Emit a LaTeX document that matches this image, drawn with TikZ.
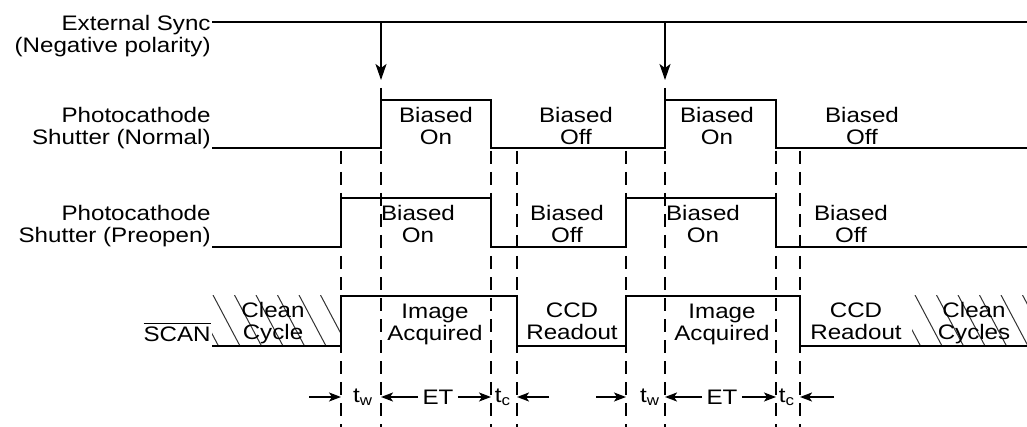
\documentclass[tikz,border=0pt]{standalone}
\usepackage{fontspec}
\setmainfont{Liberation Sans}[FakeStretch=1.15]
\usetikzlibrary{arrows.meta}

\begin{document}
\begin{tikzpicture}[x=0.5pt, y=-0.5pt,
    wave/.style={line width=0.9pt, line join=miter},
    guide/.style={line width=0.8pt, dash pattern=on 6.5pt off 4pt},
    hatch/.style={line width=0.5pt, draw=black!80},
    sig/.style={font=\fontsize{10.5}{11}\selectfont, align=right, anchor=east, inner sep=0pt},
    state/.style={font=\fontsize{10.5}{11}\selectfont, align=center, inner sep=0pt},
    span/.style={font=\fontsize{10.5}{11}\selectfont, inner sep=2pt},
    trig/.style={-{Stealth[length=8pt, width=5.5pt, inset=2pt]}, line width=0.9pt},
    dur/.style={-{Stealth[length=6pt, width=4.5pt, inset=1.5pt]}, line width=0.9pt}
  ]
  \useasboundingbox (0,0) rectangle (1027,427);

  % signal names
  \node[sig] (lsync) at (211,36) {External Sync\\(Negative polarity)};
  \node[sig] (lnrm) at (211,128) {Photocathode\\Shutter (Normal)};
  \node[sig] (lpre) at (211,226) {Photocathode\\Shutter (Preopen)};
  \node[sig, anchor=base east] (lscan) at (211,341) {$\overline{\mbox{SCAN}}$};

  % external sync
  \draw[wave] (212,22) -- (1027,22);
  \draw[trig] (381,22) -- (381,80);
  \draw[trig] (665,22) -- (665,80);
  \draw[wave] (381,88) -- (381,100);
  \draw[wave] (665,88) -- (665,100);

  % shutter, normal
  \draw[wave] (212,148) -- (381,148) -- (381,100) -- (491,100) -- (491,148)
    -- (665,148) -- (665,100) -- (776,100) -- (776,148) -- (1027,148);
  \node[state] (n1) at (436,126) {Biased\\On};
  \node[state] (n2) at (576,126) {Biased\\Off};
  \node[state] (n3) at (717,126) {Biased\\On};
  \node[state] (n4) at (862,126) {Biased\\Off};

  % shutter, preopen
  \draw[wave] (212,247) -- (341,247) -- (341,198) -- (491,198) -- (491,247)
    -- (626,247) -- (626,198) -- (776,198) -- (776,247) -- (1027,247);
  \node[state] (p1) at (418,224) {Biased\\On};
  \node[state] (p2) at (567,224) {Biased\\Off};
  \node[state] (p3) at (703,224) {Biased\\On};
  \node[state] (p4) at (851,224) {Biased\\Off};

  % scan
  \begin{scope}
    \clip (212,295) rectangle (341,346);
    \foreach \x in {170,191.5,...,341}
      \draw[hatch] (\x,295) -- ++(27,51);
  \end{scope}
  \begin{scope}
    \clip (912,295) rectangle (1027,346);
    \foreach \x in {872,893.5,...,1027}
      \draw[hatch] (\x,295) -- ++(27,51);
  \end{scope}
  \draw[wave] (212,346) -- (341,346) -- (341,296) -- (517,296) -- (517,346)
    -- (626,346) -- (626,296) -- (800,296) -- (800,346) -- (1027,346);
  \node[state] (s1) at (273,323) {Clean\\Cycle};
  \node[state] (s2) at (435,324) {Image\\Acquired};
  \node[state] (s3) at (572,321) {CCD\\Readout};
  \node[state] (s4) at (722,324) {Image\\Acquired};
  \node[state] (s5) at (856,321) {CCD\\Readout};
  \node[state] (s6) at (974,323) {Clean\\Cycles};

  % edge markers
  \foreach \x in {341,381,491,517,626,665,776,800}
    \draw[guide] (\x,151) -- (\x,427);

  % timing
  \coordinate (ta) at (341,397);
  \coordinate (tb) at (381,397);
  \coordinate (tc) at (491,397);
  \coordinate (td) at (517,397);
  \coordinate (te) at (626,397);
  \coordinate (tf) at (665,397);
  \coordinate (tg) at (776,397);
  \coordinate (th) at (800,397);
  \node[span] (tw1) at (363,397) {t\textsubscript{w}};
  \node[span] (et1) at (438,397) {ET};
  \node[span] (tc1) at (503,397) {t\textsubscript{c}};
  \node[span] (tw2) at (650,397) {t\textsubscript{w}};
  \node[span] (et2) at (722,397) {ET};
  \node[span] (tc2) at (787,397) {t\textsubscript{c}};
  \draw[dur] ([xshift=-16pt]ta) -- (ta);
  \draw[dur] (et1.west) -- (tb);
  \draw[dur] (et1.east) -- (tc);
  \draw[dur] ([xshift=16pt]td) -- (td);
  \draw[dur] ([xshift=-15pt]te) -- (te);
  \draw[dur] (et2.west) -- (tf);
  \draw[dur] (et2.east) -- (tg);
  \draw[dur] ([xshift=17pt]th) -- (th);
\end{tikzpicture}
\end{document}
